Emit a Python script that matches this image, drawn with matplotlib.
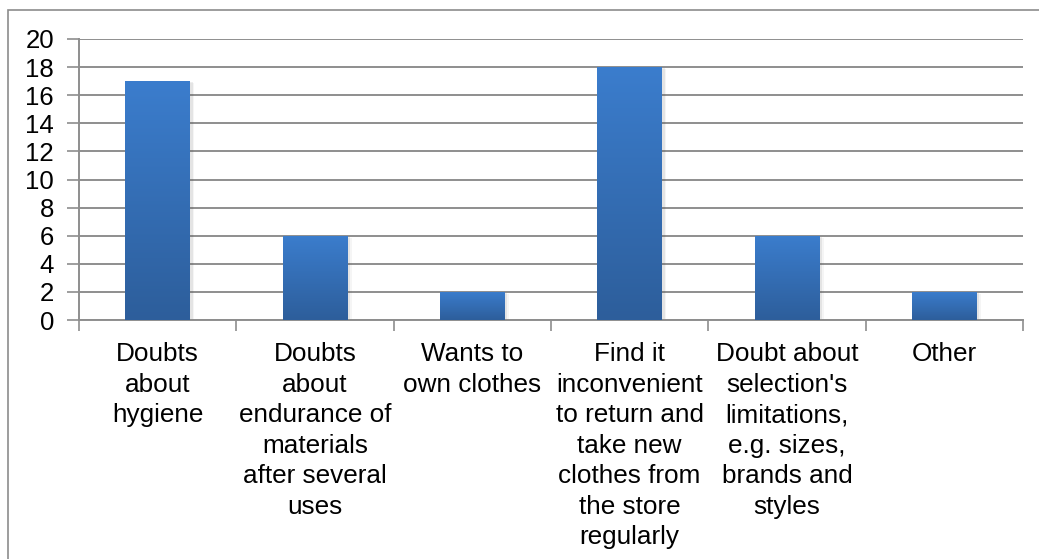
import numpy as np
import matplotlib
matplotlib.use("Agg")
import matplotlib.pyplot as plt
from matplotlib.patches import Rectangle
from matplotlib.colors import LinearSegmentedColormap

plt.rcParams['font.family'] = ['Liberation Sans', 'DejaVu Sans']

# 데이터
categories = [
    "Doubts\nabout\nhygiene",
    "Doubts\nabout\nendurance of\nmaterials\nafter several\nuses",
    "Wants to\nown clothes",
    "Find it\ninconvenient\nto return and\ntake new\nclothes from\nthe store\nregularly",
    "Doubt about\nselection's\nlimitations,\ne.g. sizes,\nbrands and\nstyles",
    "Other",
]
values = [17, 6, 2, 18, 6, 2]
yticks = list(range(0, 21, 2))

W, H = 1039, 559
fig = plt.figure(figsize=(W / 100, H / 100), dpi=100)

# 바깥 테두리
fig.patches.append(Rectangle((8 / W, -0.1), 1.2, 1 - 10 / H + 0.1, transform=fig.transFigure,
                             fill=False, edgecolor='#8c8c8c', linewidth=1.2))

ax = fig.add_axes([79 / W, 1 - 320 / H, (1023 - 79) / W, (320 - 39) / H])

grid_c = '#8e8e8e'
x = np.arange(len(values))
bw = 0.41

ax.set_xlim(-0.5, len(values) - 0.5)
ax.set_ylim(0, 20)
ax.set_yticks(yticks)
ax.set_yticklabels([str(v) for v in yticks], fontsize=18.5)
ax.yaxis.grid(True, color=grid_c, linewidth=1.4, zorder=0)
ax.set_axisbelow(True)

for s in ['top', 'right']:
    ax.spines[s].set_visible(False)
for s in ['left', 'bottom']:
    ax.spines[s].set_color(grid_c)
    ax.spines[s].set_linewidth(1.4)

ax.tick_params(axis='y', length=9, width=1.2, color=grid_c, pad=9)
ax.set_xticks(x)
ax.set_xticklabels(categories, fontsize=18.8, linespacing=1.34, va='top')
ax.tick_params(axis='x', which='major', length=0, pad=16)
ax.set_xticks(np.arange(-0.5, len(values)), minor=True)
ax.tick_params(axis='x', which='minor', length=8, width=1.2, color=grid_c)

# 그림자
for dx, dy, a in [(0.012, -0.08, 0.10), (0.024, -0.16, 0.06)]:
    ax.bar(x + dx, np.array(values) + dy, width=bw + 0.01, color='#555555', alpha=a,
           zorder=2, linewidth=0)

# 그라데이션 막대
cmap = LinearSegmentedColormap.from_list('bar', ['#2d5e9b', '#3b7dcd'])
grad = np.linspace(0, 1, 256).reshape(-1, 1)
bars = ax.bar(x, values, width=bw, color='none', linewidth=0, zorder=3)
for b in bars:
    x0, y0 = b.get_x(), b.get_y()
    im = ax.imshow(grad, cmap=cmap, origin='lower', aspect='auto',
                   extent=[x0, x0 + b.get_width(), y0, y0 + b.get_height()], zorder=3)
    im.set_clip_path(b)

ax.set_xlim(-0.5, len(values) - 0.5)
ax.set_ylim(0, 20)

fig.savefig('out.png', dpi=100)
